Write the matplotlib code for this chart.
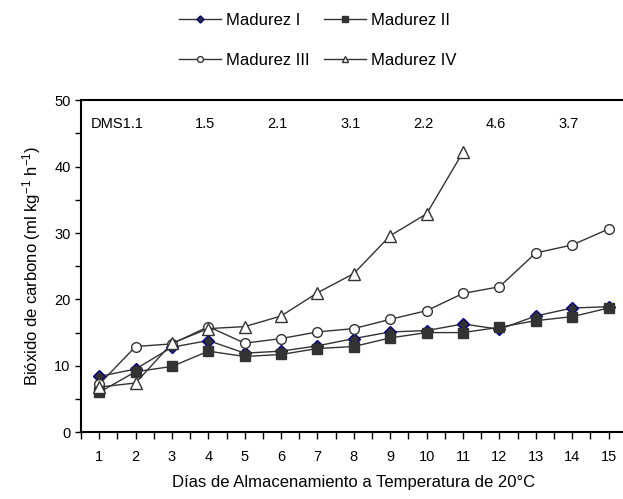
import matplotlib.pyplot as plt
import numpy as np

plt.rcParams['font.family'] = ['Liberation Sans', 'DejaVu Sans']
plt.rcParams['mathtext.fontset'] = 'custom'
plt.rcParams['mathtext.rm'] = 'Liberation Sans'
plt.rcParams['mathtext.it'] = 'Liberation Sans:italic'

dias = np.arange(1, 16)
madurez_1 = [8.4, 9.5, 12.8, 13.8, 11.9, 12.2, 13.0, 14.1, 15.1, 15.3, 16.3, 15.5, 17.5, 18.7, 18.9]
madurez_2 = [6.0, 9.1, 9.9, 12.2, 11.4, 11.7, 12.6, 12.9, 14.2, 15.0, 15.0, 15.8, 16.8, 17.4, 18.7]
madurez_3 = [7.2, 12.9, 13.3, 15.9, 13.4, 14.1, 15.1, 15.6, 17.0, 18.3, 20.9, 21.9, 27.0, 28.2, 30.6]
dias_4 = np.arange(1, 12)
madurez_4 = [6.8, 7.4, 13.4, 15.6, 15.9, 17.5, 21.0, 23.9, 29.6, 32.9, 42.2]

dms_dias = [2, 4, 6, 8, 10, 12, 14]
dms_vals = ['1.1', '1.5', '2.1', '3.1', '2.2', '4.6', '3.7']

fig = plt.figure(figsize=(6.23, 4.99), dpi=100)
ax = fig.add_axes([0.130, 0.134, 0.876, 0.665])

gris = '#333333'
l1, = ax.plot(dias, madurez_1, '-', color=gris, lw=1, marker='D', ms=6,
              mfc=gris, mec='#000080', mew=1, label='Madurez I')
l2, = ax.plot(dias, madurez_2, '-', color=gris, lw=1, marker='s', ms=6.5,
              mfc=gris, mec=gris, label='Madurez II')
l3, = ax.plot(dias, madurez_3, '-', color=gris, lw=1, marker='o', ms=7,
              mfc='white', mec=gris, mew=1, label='Madurez III')
l4, = ax.plot(dias_4, madurez_4, '-', color=gris, lw=1, marker='^', ms=8,
              mfc='white', mec=gris, mew=1, label='Madurez IV')

# DMS values along the top
for i, (d, v) in enumerate(zip(dms_dias, dms_vals)):
    if i == 0:
        ax.text(d + 0.23, 46.4, 'DMS' + v, ha='right', va='center', fontsize=10.5)
    else:
        ax.text(d - 0.1, 46.4, v, ha='center', va='center', fontsize=10.5)

ax.set_xlim(0.5, 15.5)
ax.set_ylim(0, 50)
ax.set_xticks(dias)
ax.set_xticks(np.arange(0.5, 15.6, 0.5), minor=True)
ax.set_yticks(np.arange(0, 51, 10))
ax.set_yticks(np.arange(0, 51, 5), minor=True)
ax.tick_params(axis='both', which='both', direction='out', length=4, width=1, labelsize=10.5)
ax.tick_params(axis='x', which='both', length=5, pad=8)
for s in ax.spines.values():
    s.set_visible(True)
    s.set_linewidth(1.5)
    s.set_color('black')

ax.set_xlabel('Días de Almacenamiento a Temperatura de 20°C', fontsize=12, labelpad=8)
ax.set_ylabel('Bióxido de carbono (ml kg$^{-1}$ h$^{-1}$)', fontsize=12, labelpad=8)

# row-wise order: I, II on first row, III, IV on second
fig.legend([l1, l3, l2, l4], ['Madurez I', 'Madurez III', 'Madurez II', 'Madurez IV'],
           loc='upper center', bbox_to_anchor=(0.51, 1.005), ncol=2, frameon=False,
           fontsize=12, markerscale=0.6, handlelength=2.5, handletextpad=0.3,
           columnspacing=0.9, labelspacing=1.5)

fig.savefig('out.png', dpi=100)
